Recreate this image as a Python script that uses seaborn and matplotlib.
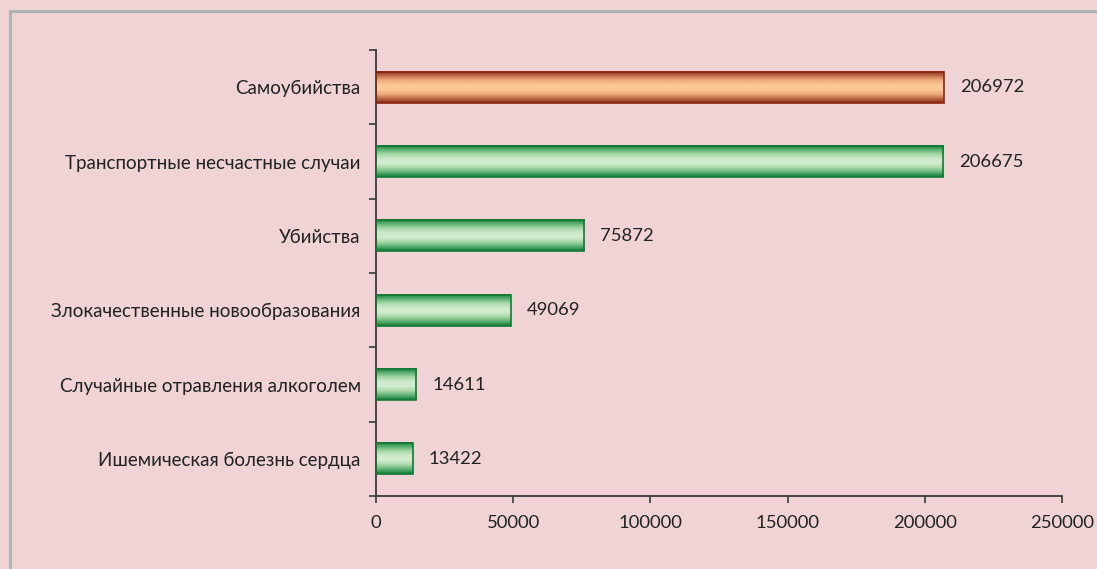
import numpy as np
import pandas as pd
import matplotlib.pyplot as plt
import matplotlib.patches as mpatches
from matplotlib.colors import LinearSegmentedColormap
import seaborn as sns

# data
causes = ["Самоубийства", "Транспортные несчастные случаи", "Убийства",
          "Злокачественные новообразования", "Случайные отравления алкоголем",
          "Ишемическая болезнь сердца"]
deaths = [206972, 206675, 75872, 49069, 14611, 13422]
highlight = ["Самоубийства"]

df = pd.DataFrame({"cause": causes, "deaths": deaths})

bg = "#EFD3D5"
sns.set_theme(style="white")
plt.rcParams["font.family"] = ["Lato", "DejaVu Sans"]

fig = plt.figure(figsize=(10.97, 5.69), dpi=100, facecolor=bg)
ax = fig.add_axes([0.3428, 0.1283, 0.6253, 0.7838])
ax.set_facecolor(bg)

sns.barplot(data=df, x="deaths", y="cause", orient="h", width=0.42,
            color="#2e9a52", ax=ax, zorder=2)

green = LinearSegmentedColormap.from_list(
    "g", ["#137a36", "#5fb274", "#a8d8aa", "#cfeacb", "#d2ecce", "#a8d8aa", "#5fb274", "#137a36"])
orange = LinearSegmentedColormap.from_list(
    "o", ["#8a2614", "#c0704a", "#eeac7c", "#fdc995", "#fdca96", "#eeac7c", "#c0704a", "#8a2614"])

grad = np.linspace(0, 1, 64).reshape(-1, 1)
for patch, name in zip(ax.patches, causes):
    x0, y0 = patch.get_x(), patch.get_y()
    w, h = patch.get_width(), patch.get_height()
    cmap = orange if name in highlight else green
    edge = "#8a2614" if name in highlight else "#137a36"
    patch.set_visible(False)
    ax.imshow(grad, cmap=cmap, aspect="auto", extent=[x0, x0 + w, y0 + h, y0],
              zorder=2, interpolation="bilinear")
    ax.add_patch(mpatches.Rectangle((x0, y0), w, h, fill=False, edgecolor=edge,
                                    linewidth=1.2, zorder=3))

ax.set_xlim(0, 250000)
ax.set_ylim(5.5, -0.5)
ax.set_xticks(np.arange(0, 250001, 50000))
ax.set_xticklabels([str(v) for v in range(0, 250001, 50000)])
ax.set_yticks(np.arange(6))
ax.set_yticks(np.arange(-0.5, 6, 1), minor=True)
ax.set_xlabel("")
ax.set_ylabel("")

for i, v in enumerate(deaths):
    ax.annotate(str(v), (v, i), xytext=(11.5, 0), textcoords="offset points",
                va="center", ha="left", fontsize=13.3, color="#222222")

for s in ["top", "right"]:
    ax.spines[s].set_visible(False)
for s in ["left", "bottom"]:
    ax.spines[s].set_color("#3a3a3a")
    ax.spines[s].set_linewidth(1.3)

ax.tick_params(axis="y", which="major", length=0, pad=11, labelsize=13.5, labelcolor="#222222")
ax.tick_params(axis="y", which="minor", left=True, length=5, width=1.2, color="#3a3a3a")
ax.tick_params(axis="x", bottom=True, length=5, width=1.2, color="#3a3a3a", pad=9,
               labelsize=13.3, labelcolor="#222222")

# outer chart frame
fig.add_artist(mpatches.Rectangle((10 / 1097, -0.1), 1.2, 1 - 11.5 / 569 + 0.1,
                                  transform=fig.transFigure, fill=False,
                                  edgecolor="#b3b3b3", linewidth=2.2))

fig.savefig("out.png", dpi=100, facecolor=bg)
